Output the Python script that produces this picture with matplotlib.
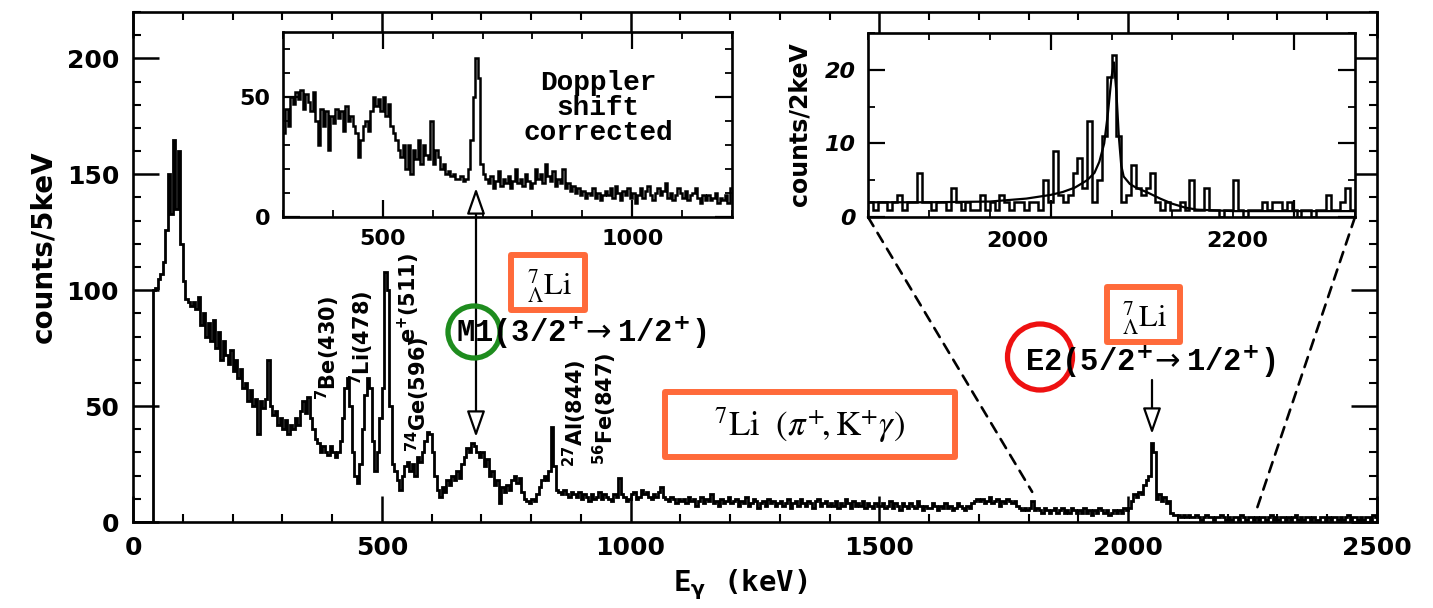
import matplotlib
matplotlib.use("Agg")
import matplotlib.pyplot as plt
import numpy as np
from matplotlib.patches import Rectangle, Ellipse, FancyArrowPatch, ConnectionPatch
from matplotlib.ticker import MultipleLocator

plt.rcParams['font.family'] = ['DejaVu Sans']
plt.rcParams['axes.linewidth'] = 1.9

# ---------------- data ----------------
main_bin_width = 5          # keV, spectrum starts at 0 keV
main_counts = [
    0, 0, 0, 0, 0, 0, 0, 0, 100, 101, 105, 107, 112, 126, 150, 133, 165, 135, 160, 120,
    104, 96, 95, 93, 95, 92, 97, 85, 90, 80, 86, 78, 87, 75, 82, 70, 78, 72, 68, 74,
    65, 70, 62, 66, 58, 60, 52, 57, 50, 53, 38, 52, 49, 53, 70, 50, 46, 48, 42, 45,
    40, 44, 38, 42, 40, 45, 42, 48, 52, 47, 54, 45, 40, 36, 34, 30, 33, 30, 29, 33,
    30, 28, 30, 35, 45, 58, 62, 50, 30, 20, 17, 25, 40, 55, 62, 58, 35, 22, 30, 45,
    58, 108, 100, 50, 25, 22, 18, 14, 20, 24, 26, 22, 25, 20, 28, 26, 30, 35, 39, 38,
    30, 20, 14, 11, 15, 13, 18, 16, 20, 18, 22, 19, 25, 28, 32, 30, 34, 33, 30, 28,
    30, 24, 27, 20, 22, 16, 18, 8, 15, 13, 16, 14, 18, 20, 17, 19, 13, 10, 9, 8,
    10, 9, 12, 15, 18, 20, 18, 22, 41, 24, 14, 13, 12, 14, 12, 11, 13, 12, 11, 13,
    10, 12, 11, 9, 12, 10, 11, 13, 10, 12, 11, 10, 9, 12, 11, 19, 12, 11, 9, 10,
    12, 13, 10, 11, 14, 12, 13, 11, 10, 12, 11, 13, 15, 11, 10, 9, 11, 10, 8, 10,
    9, 10, 8, 11, 9, 10, 7, 9, 11, 8, 10, 9, 12, 8, 9, 7, 10, 8, 9, 11,
    8, 9, 10, 7, 9, 8, 11, 7, 8, 10, 9, 6, 8, 9, 7, 10, 8, 9, 7, 8,
    9, 7, 8, 10, 6, 8, 9, 7, 10, 8, 7, 9, 8, 6, 9, 10, 7, 8, 9, 7,
    8, 7, 9, 6, 8, 7, 10, 8, 6, 9, 7, 8, 7, 9, 6, 8, 7, 6, 8, 7,
    7, 8, 6, 7, 9, 6, 8, 7, 5, 8, 7, 6, 8, 7, 6, 9, 7, 5, 7, 6,
    6, 8, 7, 5, 7, 6, 8, 6, 7, 5, 6, 8, 7, 6, 5, 7, 6, 8, 9, 10,
    9, 10, 8, 9, 11, 8, 9, 10, 7, 9, 8, 10, 9, 8, 9, 7, 6, 5, 6, 5,
    6, 9, 5, 6, 5, 4, 6, 5, 4, 5, 6, 4, 5, 6, 4, 5, 4, 6, 5, 4,
    5, 4, 6, 4, 5, 3, 5, 4, 6, 5, 4, 5, 3, 4, 5, 4, 5, 4, 6, 5,
    6, 9, 12, 11, 13, 12, 16, 18, 20, 34, 30, 10, 12, 9, 11, 8, 9, 4, 3, 3,
    3, 2, 3, 2, 3, 2, 2, 3, 2, 1, 2, 3, 2, 2, 1, 2, 2, 3, 2, 1,
    2, 1, 2, 2, 1, 3, 2, 1, 2, 2, 1, 2, 1, 2, 2, 1, 2, 3, 1, 2,
    1, 2, 2, 1, 2, 1, 2, 3, 1, 2, 1, 2, 2, 1, 2, 1, 1, 2, 2, 1,
    2, 1, 2, 2, 1, 2, 1, 2, 3, 1, 2, 2, 1, 2, 1, 2, 2, 1, 3, 2,
]

inset1_start, inset1_bin_width = 300, 5     # Doppler-shift corrected spectrum
inset1_counts = [
    35, 45, 38, 50, 47, 52, 49, 53, 45, 51,
    48, 44, 52, 40, 30, 45, 38, 44, 28, 42,
    39, 45, 41, 44, 36, 46, 40, 42, 38, 35,
    25, 32, 38, 40, 36, 44, 50, 46, 49, 44,
    50, 42, 47, 38, 35, 32, 28, 25, 30, 20,
    30, 18, 28, 24, 32, 22, 30, 26, 24, 40,
    22, 28, 25, 20, 22, 18, 19, 17, 18, 16,
    16, 17, 15, 16, 20, 32, 50, 66, 58, 22,
    18, 16, 14, 17, 12, 15, 19, 13, 16, 14,
    17, 12, 15, 20, 14, 16, 13, 18, 15, 12,
    14, 20, 16, 18, 14, 22, 17, 15, 19, 13,
    16, 14, 20, 12, 14, 11, 13, 10, 12, 9,
    11, 8, 10, 9, 12, 8, 10, 7, 9, 11,
    9, 12, 8, 13, 10, 7, 11, 9, 12, 8,
    10, 6, 9, 12, 8, 11, 13, 9, 7, 10,
    12, 9, 11, 14, 8, 10, 7, 9, 12, 10,
    8, 11, 7, 9, 10, 12, 8, 6, 9, 7,
    9, 7, 8, 10, 6, 8, 7, 9, 6, 12,
]

inset2_start, inset2_bin_width = 1850, 4    # E2 region
inset2_counts = [
    2, 1, 2, 2, 1, 2, 3, 1, 2, 2,
    6, 2, 2, 1, 2, 2, 1, 4, 2, 1,
    2, 1, 1, 3, 1, 2, 1, 3, 2, 1,
    2, 2, 1, 2, 2, 1, 5, 2, 9, 3,
    2, 3, 6, 8, 4, 13, 2, 5, 11, 19,
    22, 11, 2, 3, 7, 4, 3, 4, 6, 2,
    1, 2, 1, 1, 2, 1, 5, 1, 1, 4,
    1, 1, 0, 1, 1, 5, 1, 0, 1, 1,
    1, 2, 1, 2, 2, 1, 2, 1, 0, 1,
    1, 0, 1, 1, 3, 1, 1, 2, 4, 1,
]
fit_energy = [1850, 1900, 1950, 1980, 2000, 2010, 2020, 2030, 2036, 2040, 2044, 2047,
              2050, 2052, 2054, 2056, 2058, 2060, 2065, 2070, 2080, 2090, 2100, 2110,
              2120, 2150, 2200, 2250]
fit_counts = [2.0, 2.0, 2.1, 2.5, 3.0, 3.4, 4.0, 5.0, 6.0, 7.5, 10.0, 14.0,
              19.0, 21.0, 17.0, 11.0, 7.0, 5.5, 4.5, 4.0, 3.3, 2.5, 1.8, 1.3,
              1.0, 0.8, 0.8, 0.8]

main_xticks = [0, 500, 1000, 1500, 2000, 2500]
main_yticks = [0, 50, 100, 150, 200]
inset1_xticks = [500, 1000]
inset1_yticks = [0, 50]
inset2_xticks = [2000, 2200]
inset2_yticks = [0, 10, 20]

peak_labels = [r'$^{\mathbf{7}}$Be(430)', r'$^{\mathbf{7}}$Li(478)', r'e$^{\mathbf{+}}$(511)',
               r'$^{\mathbf{74}}$Ge(596)', r'$^{\mathbf{27}}$Al(844)', r'$^{\mathbf{56}}$Fe(847)']

# ---------------- figure ----------------
W, H = 1433, 608
fig = plt.figure(figsize=(W / 100, H / 100), dpi=100)


def rect(l, t, r, b):
    return [l / W, 1 - b / H, (r - l) / W, (b - t) / H]


def bold_ticks(a, italic_y=False):
    for lab in a.get_xticklabels():
        lab.set_fontweight('bold')
    for lab in a.get_yticklabels():
        lab.set_fontweight('bold')
        if italic_y:
            lab.set_fontstyle('italic')


ORANGE = '#FF6A3A'
GREEN = '#1E8C1E'
RED = '#EE1111'

# main axes
ax = fig.add_axes(rect(133, 12, 1377, 522))
main_edges = np.arange(len(main_counts) + 1) * main_bin_width
ax.stairs(main_counts, main_edges, color='k', lw=2.0, baseline=None)
ax.set_xlim(0, 2500)
ax.set_ylim(0, 220)
ax.set_xticks(main_xticks)
ax.set_yticks(main_yticks)
ax.xaxis.set_minor_locator(MultipleLocator(100))
ax.yaxis.set_minor_locator(MultipleLocator(10))
ax.tick_params(which='both', direction='in', top=True, right=True, width=1.8)
ax.tick_params(which='major', length=19)
ax.tick_params(which='minor', length=6, width=1.5)
ax.tick_params(axis='both', labelsize=18, pad=10)
bold_ticks(ax)

# inset 1
ax1 = fig.add_axes(rect(283, 32, 732, 217))
inset1_edges = inset1_start + np.arange(len(inset1_counts) + 1) * inset1_bin_width
ax1.stairs(inset1_counts, inset1_edges, color='k', lw=1.8, baseline=None)
ax1.set_xlim(300, 1200)
ax1.set_ylim(0, 77)
ax1.set_xticks(inset1_xticks)
ax1.set_yticks(inset1_yticks)
ax1.xaxis.set_minor_locator(MultipleLocator(100))
ax1.yaxis.set_minor_locator(MultipleLocator(10))
ax1.tick_params(which='both', direction='in', top=True, right=True, width=1.6)
ax1.tick_params(which='major', length=12)
ax1.tick_params(which='minor', length=5, width=1.3)
ax1.tick_params(axis='both', labelsize=16, pad=9)
bold_ticks(ax1)

# inset 2
ax2 = fig.add_axes(rect(868, 33, 1355, 217))
inset2_edges = inset2_start + np.arange(len(inset2_counts) + 1) * inset2_bin_width
ax2.stairs(inset2_counts, inset2_edges, color='k', lw=1.8, baseline=None)
ax2.plot(fit_energy, fit_counts, color='k', lw=1.6)
ax2.set_xlim(1850, 2250)
ax2.set_ylim(0, 25)
ax2.set_xticks(inset2_xticks)
ax2.set_xticklabels([])
ax2.set_yticks(inset2_yticks)
ax2.xaxis.set_minor_locator(MultipleLocator(50))
ax2.yaxis.set_minor_locator(MultipleLocator(5))
ax2.tick_params(which='both', direction='in', top=True, right=True, width=1.6)
ax2.tick_params(which='major', length=12)
ax2.tick_params(which='minor', length=5, width=1.3)
ax2.tick_params(axis='both', labelsize=16, pad=9)
bold_ticks(ax2, italic_y=True)

# dashed zoom lines
for xyA, xyB in [((0, 0), (1807, 13)), ((1, 0), (2259, 6))]:
    con = ConnectionPatch(xyA=xyA, coordsA=ax2.transAxes, xyB=xyB, coordsB=ax.transData,
                          color='k', lw=1.9, ls=(0, (4, 3)))
    fig.add_artist(con)

# overlay in pixel coordinates for annotations
ov = fig.add_axes([0, 0, 1, 1])
ov.set_xlim(0, W)
ov.set_ylim(H, 0)
ov.axis('off')
ov.set_zorder(10)

# inset-2 energy labels: in the original scan they sit left of their ticks
for val, px in zip(inset2_xticks, [1017, 1237]):
    ov.text(px, 241, str(val), ha='center', va='center', fontsize=16, fontweight='bold')

ov.text(43, 247, 'counts/5keV', rotation=90, ha='center', va='center', fontsize=20,
        fontweight='bold')
ov.text(800, 124, 'counts/2keV', rotation=90, ha='center', va='center', fontsize=17,
        fontweight='bold')
ov.text(740, 585, r'E$_{\mathbf{\gamma}}$ (keV)', ha='center', va='center', fontsize=21,
        family='DejaVu Sans Mono', fontweight='bold')

label_pos = [(328, 400), (362, 385), (409, 343), (418, 452), (575, 467), (605, 465)]
for txt, (px, py) in zip(peak_labels, label_pos):
    ov.text(px, py, txt, rotation=90, ha='center', va='bottom', fontsize=15,
            fontweight='bold')

mono = dict(family='Liberation Mono', fontweight='bold')
ov.text(598, 108, 'Doppler\nshift\ncorrected', ha='center', va='center', fontsize=20,
        linespacing=0.95, **mono)
ov.text(456, 333, r'M1(3/2$^{\mathbf{+}}\!\rightarrow$1/2$^{\mathbf{+}}$)', ha='left',
        va='center', fontsize=22, **mono)
ov.text(1025, 362, r'E2(5/2$^{\mathbf{+}}\!\rightarrow$1/2$^{\mathbf{+}}$)', ha='left',
        va='center', fontsize=22, **mono)

# arrows
ov.add_patch(FancyArrowPatch((476, 188), (476, 437), arrowstyle='<|-|>,head_length=0.8,head_width=0.28',
                             mutation_scale=20, fc='white', ec='k', lw=1.6, shrinkA=0, shrinkB=0))
ov.add_patch(FancyArrowPatch((1152, 380), (1152, 434), arrowstyle='-|>,head_length=0.8,head_width=0.28',
                             mutation_scale=20, fc='white', ec='k', lw=1.6, shrinkA=0, shrinkB=0))

# circles
ov.add_patch(Ellipse((474, 332), 52, 52, fill=False, ec=GREEN, lw=3.8))
ov.add_patch(Ellipse((1040, 357), 65, 66, fill=False, ec=RED, lw=3.8))

# orange boxes
for (l, t, r, b) in [(511, 255, 585, 310), (1107, 287, 1180, 342), (665, 392, 955, 457)]:
    ov.add_patch(Rectangle((l, t), r - l, b - t, fc='white', ec=ORANGE, lw=4.3, joinstyle='round'))
ov.text(550, 286, r'$^{7}_{\Lambda}\mathrm{Li}$', ha='center', va='center', fontsize=22,
        math_fontfamily='stix')
ov.text(1145, 318, r'$^{7}_{\Lambda}\mathrm{Li}$', ha='center', va='center', fontsize=22,
        math_fontfamily='stix')
ov.text(810, 425, r'$^{7}\mathrm{Li}\ \ (\pi^{+}\!,\mathrm{K}^{+}\gamma)$', ha='center',
        va='center', fontsize=25, math_fontfamily='stix')

fig.savefig('out.png', dpi=100)
